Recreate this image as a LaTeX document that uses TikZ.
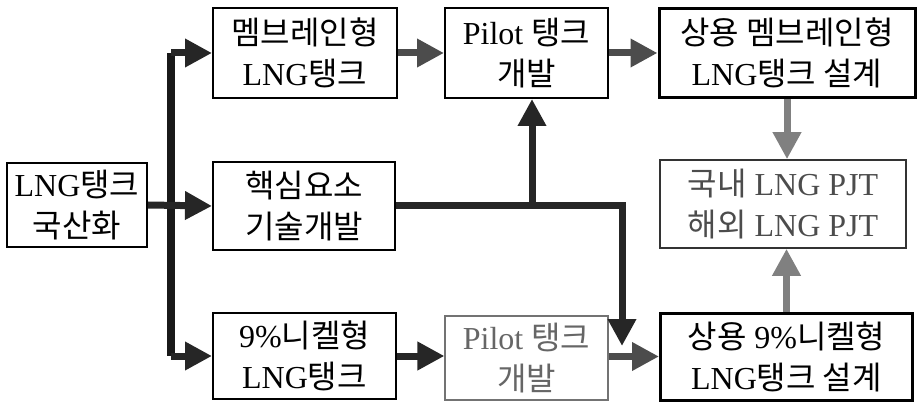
\documentclass[tikz,border=0pt]{standalone}
\usepackage{fontspec}
\setmainfont{Liberation Serif}
\newfontfamily\kr{Noto Sans CJK KR}
\usetikzlibrary{arrows.meta}
\tikzset{
  box/.style={draw, line width=2pt, inner sep=1pt, align=center,
    font=\fontsize{32}{41}\selectfont},
  strongbox/.style={box, line width=3pt},
  faintbox/.style={box, draw=black!55, line width=1.1pt, text=black!60},
  projbox/.style={box, draw=black!80, line width=1.6pt, text=black!70},
  flow/.style={line width=7pt, draw=black!85, line join=miter,
    -{Triangle[length=27pt,width=27pt]}},
  flowgray/.style={flow, draw=black!70},
  flowlight/.style={flow, draw=black!50}
}
\begin{document}
\begin{tikzpicture}[x=1pt,y=-1pt]
\path[use as bounding box] (0,0) rectangle (918,403);

\node[box, minimum width=140pt, minimum height=84pt] (src) at (77,205)
  {LNG{\kr 탱크}\\{\kr 국산화}};
\node[box, minimum width=184pt, minimum height=90pt] (mem) at (305,53)
  {{\kr 멤브레인형}\\LNG{\kr 탱크}};
\node[box, minimum width=182pt, minimum height=88pt] (core) at (304,206)
  {{\kr 핵심요소}\\{\kr 기술개발}};
\node[box, minimum width=183pt, minimum height=86pt] (nick) at (304.5,356)
  {9\%{\kr 니켈형}\\LNG{\kr 탱크}};
\node[box, minimum width=163pt, minimum height=90pt] (pilotA) at (526.5,53)
  {Pilot {\kr 탱크}\\{\kr 개발}};
\node[faintbox, minimum width=163pt, minimum height=84pt] (pilotB) at (526.5,358)
  {Pilot {\kr 탱크}\\{\kr 개발}};
\node[strongbox, minimum width=256pt, minimum height=89pt] (comM) at (787,53)
  {{\kr 상용 멤브레인형}\\LNG{\kr 탱크 설계}};
\node[projbox, minimum width=246pt, minimum height=88pt] (proj) at (783,204)
  {{\kr 국내} LNG PJT\\{\kr 해외} LNG PJT};
\node[strongbox, minimum width=252pt, minimum height=87pt] (comN) at (786.5,356.5)
  {{\kr 상용} 9\%{\kr 니켈형}\\LNG{\kr 탱크 설계}};

\coordinate (tx) at (171,0);
\coordinate (ux) at (532,0);
\coordinate (dn) at (622,346);

% trunk from the left box
\draw[line width=8pt, draw=black!90] (tx |- mem.west) -- (tx |- nick.west);
\draw[flow] (src.east) -- (core.west);
\draw[flow] (tx |- mem.west) -- (mem.west);
\draw[flow] (tx |- nick.west) -- (nick.west);

% top row
\draw[flowgray] (mem.east) -- (pilotA.west);
\draw[flowgray] (pilotA.east) -- (comM.west);

% core element branch
\draw[flow] (core.east) -| (dn);
\draw[flow] (ux |- core.east) -- (ux |- pilotA.south);

% bottom row
\draw[flow] (nick.east) -- (nick.east -| pilotB.west);
\draw[flowgray] (pilotB.east |- comN.west) -- (comN.west);

% to projects
\draw[flowlight] (comM.south) -- (comM.south |- proj.north);
\draw[flowlight] (comN.north) -- (comN.north |- proj.south);
\end{tikzpicture}
\end{document}
